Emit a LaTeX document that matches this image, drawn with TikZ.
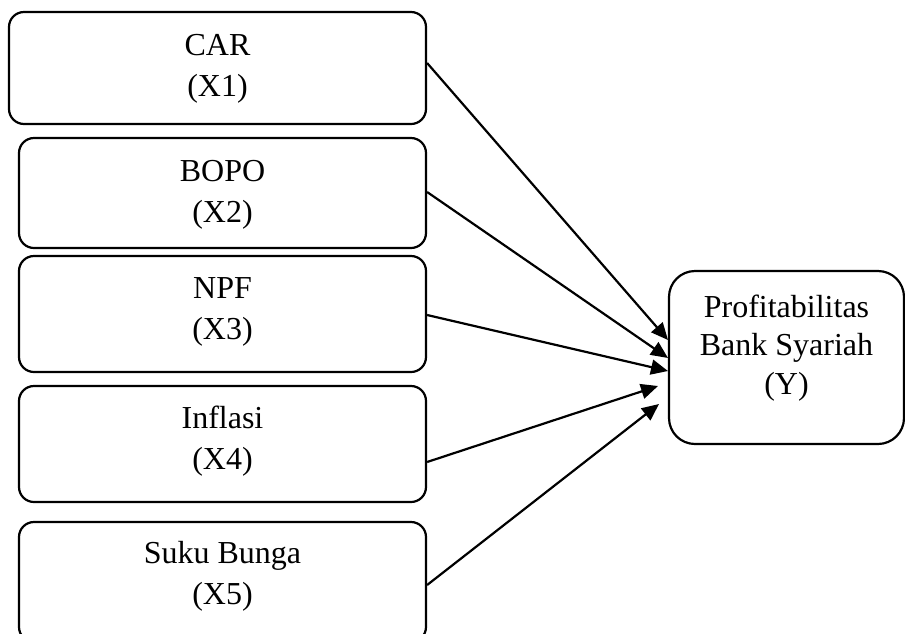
\documentclass[tikz,border=0pt]{standalone}
\usepackage{fontspec}
\setmainfont{Liberation Serif}
\usetikzlibrary{arrows.meta}
\begin{document}
\begin{tikzpicture}[x=1pt,y=-1pt,
  varbox/.style={draw,line width=2.2pt,rounded corners=15pt,inner sep=0pt},
  ybox/.style={draw,line width=2.2pt,rounded corners=26pt,inner sep=0pt},
  lbl/.style={align=center,inner sep=0pt,anchor=base,font=\fontsize{32}{41}\selectfont},
  conn/.style={line width=2.2pt,-{Triangle[length=17pt,width=15pt]}}]
\useasboundingbox (0,0) rectangle (905,633);
\clip (0,0) rectangle (905,633);
% boxes
\node[varbox,minimum width=417pt,minimum height=112pt] (b1) at (217.5,68) {};
\node[varbox,minimum width=407pt,minimum height=110pt] (b2) at (222.5,193) {};
\node[varbox,minimum width=407pt,minimum height=116pt] (b3) at (222.5,314) {};
\node[varbox,minimum width=407pt,minimum height=116pt] (b4) at (222.5,444) {};
\node[varbox,minimum width=407pt,minimum height=120pt] (b5) at (222.5,582) {};
\node[ybox,minimum width=235pt,minimum height=173pt] (y) at (786.5,357.5) {};
% labels (anchor = baseline of last line)
\node[lbl] (t1) at (217.5,96) {CAR\\(X1)};
\node[lbl] (t2) at (222.5,222) {BOPO\\(X2)};
\node[lbl] (t3) at (222.5,339) {NPF\\(X3)};
\node[lbl] (t4) at (222.5,469) {Inflasi\\(X4)};
\node[lbl] (t5) at (222.5,604) {Suku Bunga\\(X5)};
\node[lbl,font=\fontsize{32}{38.5}\selectfont] (ty) at (786.5,394) {Profitabilitas\\Bank Syariah\\(Y)};
% connector end points
\coordinate (s1) at (b1.east |- 0,63);
\coordinate (s2) at (b2.east |- 0,192);
\coordinate (s3) at (b3.east |- 0,315);
\coordinate (s4) at (b4.east |- 0,462);
\coordinate (s5) at (b5.east |- 0,585);
\coordinate (e1) at (668,340);
\coordinate (e2) at (668,358);
\coordinate (e3) at (668,371);
\coordinate (e4) at (658,386);
\coordinate (e5) at (659,404);
\draw[conn] (s1) -- (e1);
\draw[conn] (s2) -- (e2);
\draw[conn] (s3) -- (e3);
\draw[conn] (s4) -- (e4);
\draw[conn] (s5) -- (e5);
\end{tikzpicture}
\end{document}
